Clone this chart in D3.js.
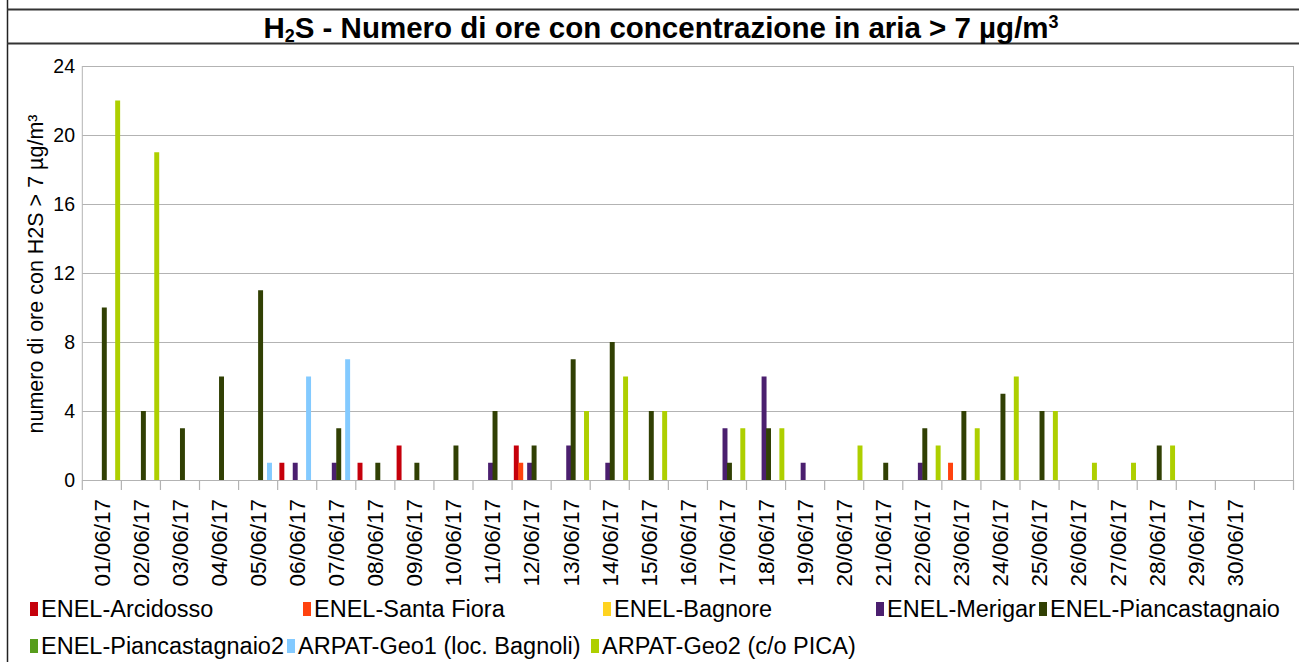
<!DOCTYPE html>
<html>
<head>
<meta charset="utf-8">
<script src="https://cdn.jsdelivr.net/npm/d3@7"></script>
<style>
  body { margin: 0; background: #fff; }
  text { font-family: "Liberation Sans", Arial, sans-serif; fill: #000; }
</style>
</head>
<body>
<div id="chart"></div>
<script>
// categories (one empty slot at the end, as in the original sheet)
const days = ['01/06/17', '02/06/17', '03/06/17', '04/06/17', '05/06/17', '06/06/17', '07/06/17', '08/06/17', '09/06/17', '10/06/17',
  '11/06/17', '12/06/17', '13/06/17', '14/06/17', '15/06/17', '16/06/17', '17/06/17', '18/06/17', '19/06/17', '20/06/17',
  '21/06/17', '22/06/17', '23/06/17', '24/06/17', '25/06/17', '26/06/17', '27/06/17', '28/06/17', '29/06/17', '30/06/17'];

const stations = ['ENEL-Arcidosso', 'ENEL-Santa Fiora', 'ENEL-Bagnore', 'ENEL-Merigar', 'ENEL-Piancastagnaio',
  'ENEL-Piancastagnaio2', 'ARPAT-Geo1 (loc. Bagnoli)', 'ARPAT-Geo2 (c/o PICA)'];
const colors = ['#c5000b', '#ff420e', '#ffd320', '#4b1f6f', '#314004', '#579d1c', '#83caff', '#aecf00'];

const arcidosso      = [0, 0, 0, 0, 0, 1, 0, 1, 2, 0, 0, 2, 0, 0, 0, 0, 0, 0, 0, 0, 0, 0, 0, 0, 0, 0, 0, 0, 0, 0];
const santaFiora     = [0, 0, 0, 0, 0, 0, 0, 0, 0, 0, 0, 1, 0, 0, 0, 0, 0, 0, 0, 0, 0, 0, 1, 0, 0, 0, 0, 0, 0, 0];
const bagnore        = [0, 0, 0, 0, 0, 0, 0, 0, 0, 0, 0, 0, 0, 0, 0, 0, 0, 0, 0, 0, 0, 0, 0, 0, 0, 0, 0, 0, 0, 0];
const merigar        = [0, 0, 0, 0, 0, 1, 1, 0, 0, 0, 1, 1, 2, 1, 0, 0, 3, 6, 1, 0, 0, 1, 0, 0, 0, 0, 0, 0, 0, 0];
const piancastagnaio = [10, 4, 3, 6, 11, 0, 3, 1, 1, 2, 4, 2, 7, 8, 4, 0, 1, 3, 0, 0, 1, 3, 4, 5, 4, 0, 0, 2, 0, 0];
const piancastagnaio2 = [0, 0, 0, 0, 0, 0, 0, 0, 0, 0, 0, 0, 0, 0, 0, 0, 0, 0, 0, 0, 0, 0, 0, 0, 0, 0, 0, 0, 0, 0];
const geo1           = [0, 0, 0, 0, 1, 6, 7, 0, 0, 0, 0, 0, 0, 0, 0, 0, 0, 0, 0, 0, 0, 0, 0, 0, 0, 0, 0, 0, 0, 0];
const geo2           = [22, 19, 0, 0, 0, 0, 0, 0, 0, 0, 0, 0, 4, 6, 4, 0, 3, 3, 0, 2, 0, 2, 3, 6, 4, 1, 1, 2, 0, 0];

const yTicks = [0, 4, 8, 12, 16, 20, 24];

const seriesValues = [arcidosso, santaFiora, bagnore, merigar, piancastagnaio, piancastagnaio2, geo1, geo2];

const width = 1299, height = 662;
const plot = { left: 82.3, right: 1293.5, top: 66, bottom: 480 };

const svg = d3.select('#chart').append('svg')
  .attr('width', width)
  .attr('height', height);

svg.append('rect').attr('width', width).attr('height', height).attr('fill', '#fff');

// outer frame + title box
svg.append('line').attr('x1', 7.5).attr('x2', 7.5).attr('y1', 0).attr('y2', height)
  .attr('stroke', '#222').attr('stroke-width', 1.5);
svg.append('line').attr('x1', 7).attr('x2', width).attr('y1', 9.5).attr('y2', 9.5)
  .attr('stroke', '#333').attr('stroke-width', 2);
svg.append('line').attr('x1', 7).attr('x2', width).attr('y1', 43.5).attr('y2', 43.5)
  .attr('stroke', '#333').attr('stroke-width', 2);

const title = svg.append('text')
  .attr('x', 661).attr('y', 38)
  .attr('text-anchor', 'middle')
  .style('font-size', '29.5px').style('font-weight', 'bold');
title.append('tspan').text('H');
title.append('tspan').attr('dy', 4).style('font-size', '18px').text('2');
title.append('tspan').attr('dy', -4).text('S - Numero di ore con concentrazione in aria > 7 µg/m');
title.append('tspan').attr('dy', -10).style('font-size', '18px').text('3');

const x0 = d3.scaleBand()
  .domain([...days, ''])
  .range([plot.left, plot.right])
  .paddingInner(0.089)
  .paddingOuter(0.0445);

const x1 = d3.scaleBand()
  .domain(d3.range(stations.length))
  .range([0, x0.bandwidth()]);

const y = d3.scaleLinear().domain([0, 24]).range([plot.bottom, plot.top]);

// gridlines
svg.append('g').selectAll('line').data(yTicks).enter().append('line')
  .attr('x1', plot.left).attr('x2', plot.right)
  .attr('y1', d => Math.round(y(d)) + 0.5).attr('y2', d => Math.round(y(d)) + 0.5)
  .attr('stroke', '#b3b3b3').attr('stroke-width', 1);

// plot border sides
[plot.left, plot.right].forEach(xx => {
  svg.append('line').attr('x1', xx).attr('x2', xx)
    .attr('y1', y(24)).attr('y2', plot.bottom)
    .attr('stroke', '#b3b3b3').attr('stroke-width', 1);
});

// x ticks at category boundaries
const step = x0.step();
const bounds = d3.range(x0.domain().length + 1).map(i => plot.left + i * step);
svg.append('g').selectAll('line').data(bounds).enter().append('line')
  .attr('x1', d => d).attr('x2', d => d)
  .attr('y1', plot.bottom).attr('y2', plot.bottom + 10)
  .attr('stroke', '#b3b3b3').attr('stroke-width', 1.2);

// bars
const groups = svg.append('g').selectAll('g')
  .data(days).enter().append('g')
  .attr('transform', d => `translate(${x0(d)},0)`);

groups.selectAll('rect')
  .data((d, di) => seriesValues.map((vals, si) => ({ si, value: vals[di] })))
  .enter().append('rect')
  .attr('x', d => x1(d.si))
  .attr('width', x1.bandwidth() + 0.5)
  .attr('y', d => y(d.value))
  .attr('height', d => y(0) - y(d.value))
  .attr('fill', d => colors[d.si]);

// y axis labels
svg.append('g').selectAll('text').data(yTicks).enter().append('text')
  .attr('x', 75).attr('y', d => y(d))
  .attr('dy', '0.35em')
  .attr('text-anchor', 'end')
  .style('font-size', '19.5px')
  .text(d => d);

// x axis labels
svg.append('g').selectAll('text').data(days).enter().append('text')
  .attr('transform', d => `translate(${x0(d) + x0.bandwidth() / 2},499) rotate(-90)`)
  .attr('dy', '0.35em')
  .attr('text-anchor', 'end')
  .style('font-size', '22.5px')
  .text(d => d);

// y axis title
svg.append('text')
  .attr('transform', 'translate(43,274) rotate(-90)')
  .attr('text-anchor', 'middle')
  .style('font-size', '21.5px')
  .text('numero di ore con H2S > 7 µg/m³');

// legend
const legendPos = [[30, 609], [303, 609], [603, 609], [876, 609], [1039, 609], [30, 646], [287, 646], [591, 646]];
const legend = svg.append('g').selectAll('g')
  .data(stations).enter().append('g')
  .attr('transform', (d, i) => `translate(${legendPos[i][0]},${legendPos[i][1]})`);
legend.append('rect')
  .attr('x', 0).attr('y', -7).attr('width', 8).attr('height', 14)
  .attr('fill', (d, i) => colors[i]);
legend.append('text')
  .attr('x', 11).attr('y', 0).attr('dy', '0.35em')
  .style('font-size', '23.5px')
  .text(d => d);
</script>
</body>
</html>
